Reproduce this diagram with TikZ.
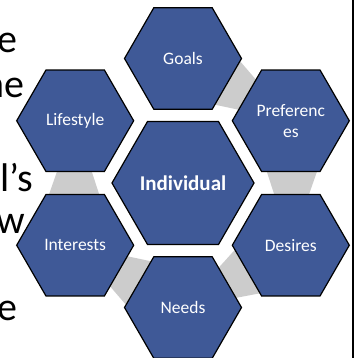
\documentclass[tikz,border=0pt]{standalone}
\usepackage{fontspec}
\setmainfont{Carlito}
\usetikzlibrary{shapes.geometric}
\definecolor{hexblue}{RGB}{63,89,151}
\definecolor{linkgray}{RGB}{204,204,204}
\begin{document}
\begin{tikzpicture}[x=1pt,y=1pt,
  hexcell/.style={regular polygon, regular polygon sides=6, minimum size=117pt,
    inner sep=0pt, fill=hexblue, draw=black, line width=1.2pt, text=white,
    font=\fontsize{17.5}{21}\selectfont, align=center},
  hexcore/.style={hexcell, minimum size=142pt, font=\fontsize{21}{25}\selectfont\bfseries},
  bgtext/.style={anchor=base east, inner sep=0pt, font=\fontsize{40}{44}\selectfont},
  link/.style={fill=linkgray, draw=none}]
\useasboundingbox (-183,-175) rectangle (172,183);

% running text of the page, partly hidden behind the graphic
\begin{scope}
  \clip (-183,-175) rectangle (172,183);
  \node[bgtext] (p1) at (-165,130) {e};
  \node[bgtext] (p2) at (-158,85) {he};
  \node[bgtext] (p3) at (-180,38) {n};
  \node[bgtext] (p4) at (-150,-9) {al’s};
  \node[bgtext] (p5) at (-158,-51) {w};
  \node[bgtext] (p6) at (-165,-137) {e};
\end{scope}

% grey links between neighbouring outer cells
\foreach \a in {0,60,-60,-120,180}{
  \fill[link, rotate=\a] (81,20) -- (137,20) -- (123,-20) -- (94,-20) -- cycle;
}

% hexagon cells
\node[hexcore] (core) at (0,0) {Individual};
\node[hexcell] (goals) at (90:124.5) {Goals};
\node[hexcell] (prefs) at (30:124.5) {Preferenc\\es};
\node[hexcell] (desires) at (-30:124.5) {Desires};
\node[hexcell] (needs) at (-90:124.5) {Needs};
\node[hexcell] (interests) at (210:124.5) {Interests};
\node[hexcell] (lifestyle) at (150:124.5) {Lifestyle};

% page edge on the right
\draw[line width=1.2pt] (170,-175) -- (170,183);
\end{tikzpicture}
\end{document}
